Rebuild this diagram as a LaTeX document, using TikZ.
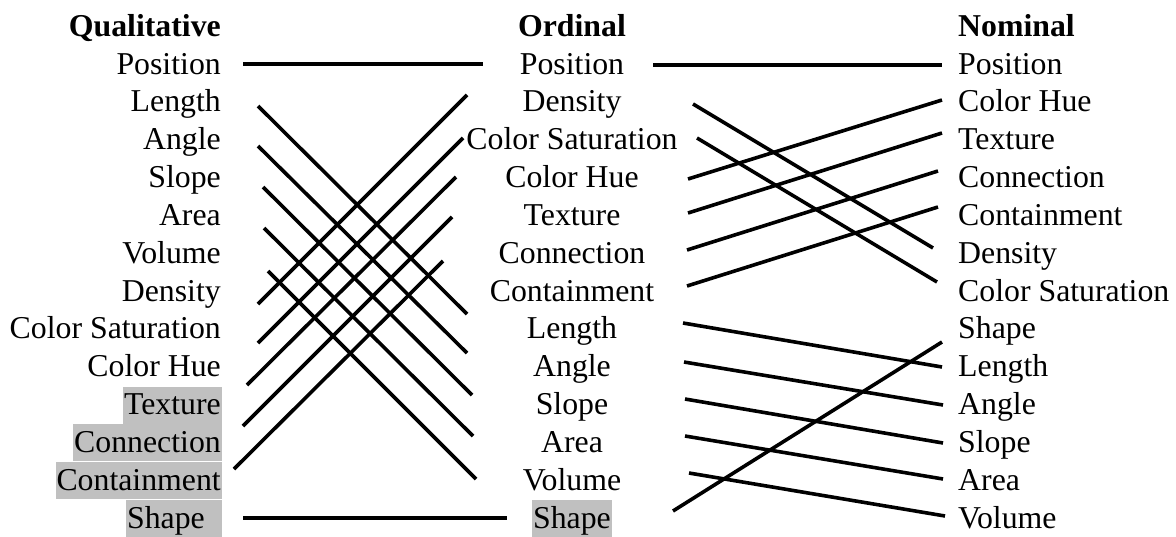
\documentclass[tikz,border=0pt]{standalone}
\usepackage{fontspec}
\setmainfont{Liberation Serif}
\definecolor{hlgray}{RGB}{192,192,192}
\begin{document}
\begin{tikzpicture}[x=1pt,y=-1pt,
  item/.style={inner xsep=1pt, inner ysep=0pt, text height=28pt, text depth=9pt, font=\fontsize{31.8}{38}\selectfont},
  ttl/.style={inner sep=0pt, font=\fontsize{31.8}{38}\selectfont\bfseries},
  hl/.style={fill=hlgray},
  lcol/.style={item, anchor=base east},
  mcol/.style={item, anchor=base},
  rcol/.style={item, anchor=base west},
  conn/.style={line width=3.6pt}]
\useasboundingbox (0,0) rectangle (1176,536);
% titles
\node[ttl, anchor=base east] (tq) at (221,36) {Qualitative};
\node[ttl, anchor=base] (to) at (572,36) {Ordinal};
\node[ttl, anchor=base west] (tn) at (958,36) {Nominal};
% left column
\node[lcol] (q1) at (222,74) {Position};
\node[lcol] (q2) at (222,111.8) {Length};
\node[lcol] (q3) at (222,149.7) {Angle};
\node[lcol] (q4) at (222,187.5) {Slope};
\node[lcol] (q5) at (222,225.3) {Area};
\node[lcol] (q6) at (222,263.2) {Volume};
\node[lcol] (q7) at (222,301.0) {Density};
\node[lcol] (q8) at (222,338.8) {Color Saturation};
\node[lcol] (q9) at (222,376.6) {Color Hue};
\node[lcol, hl] (q10) at (222,414.5) {Texture};
\node[lcol, hl] (q11) at (222,452.3) {Connection};
\node[lcol, hl] (q12) at (222,490.1) {Containment};
\node[lcol, hl] (q13) at (222,528.0) {Shape\kern16pt};
% middle column
\node[mcol] (o1) at (572,74) {Position};
\node[mcol] (o2) at (572,111.8) {Density};
\node[mcol] (o3) at (572,149.7) {Color Saturation};
\node[mcol] (o4) at (572,187.5) {Color Hue};
\node[mcol] (o5) at (572,225.3) {Texture};
\node[mcol] (o6) at (572,263.2) {Connection};
\node[mcol] (o7) at (572,301.0) {Containment};
\node[mcol] (o8) at (572,338.8) {Length};
\node[mcol] (o9) at (572,376.6) {Angle};
\node[mcol] (o10) at (572,414.5) {Slope};
\node[mcol] (o11) at (572,452.3) {Area};
\node[mcol] (o12) at (572,490.1) {Volume};
\node[mcol, hl] (o13) at (572,528.0) {Shape};
% right column
\node[rcol] (n1) at (957,74) {Position};
\node[rcol] (n2) at (957,111.8) {Color Hue};
\node[rcol] (n3) at (957,149.7) {Texture};
\node[rcol] (n4) at (957,187.5) {Connection};
\node[rcol] (n5) at (957,225.3) {Containment};
\node[rcol] (n6) at (957,263.2) {Density};
\node[rcol] (n7) at (957,301.0) {Color Saturation};
\node[rcol] (n8) at (957,338.8) {Shape};
\node[rcol] (n9) at (957,376.6) {Length};
\node[rcol] (n10) at (957,414.5) {Angle};
\node[rcol] (n11) at (957,452.3) {Slope};
\node[rcol] (n12) at (957,490.1) {Area};
\node[rcol] (n13) at (957,528.0) {Volume};
% connector end points, left -> middle
\coordinate (qa1) at (243,64);  \coordinate (ob1) at (483,64);
\coordinate (qa2) at (258,106); \coordinate (ob8) at (467,314);
\coordinate (qa3) at (258,146); \coordinate (ob9) at (467,353);
\coordinate (qa4) at (263,187); \coordinate (ob10) at (472,395);
\coordinate (qa5) at (264,228); \coordinate (ob11) at (473,436);
\coordinate (qa6) at (268,271); \coordinate (ob12) at (476,479);
\coordinate (qa7) at (258,304); \coordinate (ob2) at (467,95);
\coordinate (qa8) at (258,343); \coordinate (ob3) at (463,138);
\coordinate (qa9) at (247,385); \coordinate (ob4) at (456,177);
\coordinate (qa10) at (243,426); \coordinate (ob5) at (452,217);
\coordinate (qa11) at (234,469); \coordinate (ob6) at (443,261);
\coordinate (qa13) at (243,518); \coordinate (ob13) at (507,518);
% connector end points, middle -> right
\coordinate (oa1) at (653,65);  \coordinate (nb1) at (942,65);
\coordinate (oa2) at (693,104); \coordinate (nb6) at (933,248);
\coordinate (oa3) at (697,138); \coordinate (nb7) at (937,282);
\coordinate (oa4) at (688,179); \coordinate (nb2) at (942,100);
\coordinate (oa5) at (688,213); \coordinate (nb3) at (942,133);
\coordinate (oa6) at (687,250); \coordinate (nb4) at (938,171);
\coordinate (oa7) at (687,286); \coordinate (nb5) at (938,207);
\coordinate (oa8) at (683,323); \coordinate (nb9) at (942,367);
\coordinate (oa9) at (684,362); \coordinate (nb10) at (943,405);
\coordinate (oa10) at (685,399); \coordinate (nb11) at (943,443);
\coordinate (oa11) at (685,436); \coordinate (nb12) at (943,479);
\coordinate (oa12) at (689,473); \coordinate (nb13) at (945,516);
\coordinate (oa13) at (673,511); \coordinate (nb8) at (942,342);
% connectors
\foreach \a/\b in {qa1/ob1, qa2/ob8, qa3/ob9, qa4/ob10, qa5/ob11, qa6/ob12,
  qa7/ob2, qa8/ob3, qa9/ob4, qa10/ob5, qa11/ob6, qa13/ob13,
  oa1/nb1, oa2/nb6, oa3/nb7, oa4/nb2, oa5/nb3, oa6/nb4, oa7/nb5,
  oa8/nb9, oa9/nb10, oa10/nb11, oa11/nb12, oa12/nb13, oa13/nb8}
  \draw[conn] (\a) -- (\b);
\end{tikzpicture}
\end{document}
